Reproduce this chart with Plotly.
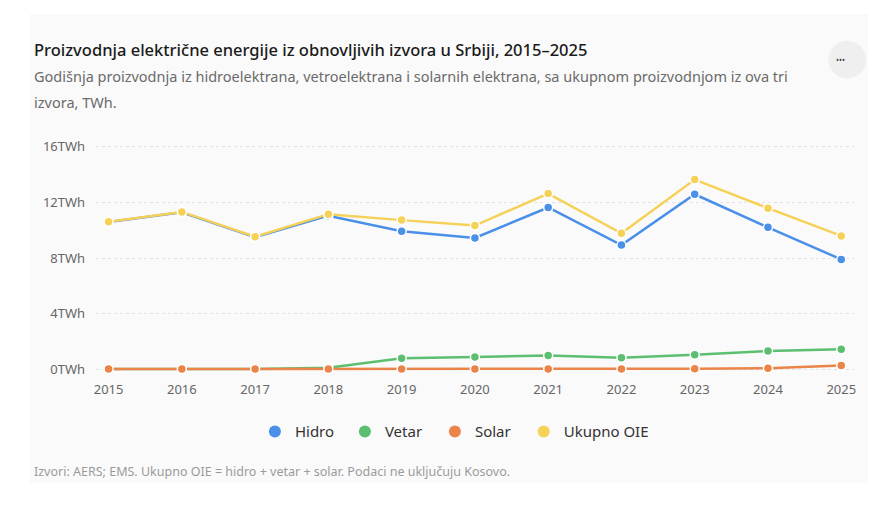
import plotly.graph_objects as go

# Podaci (TWh), procenjeno sa grafika
godine = [2015, 2016, 2017, 2018, 2019, 2020, 2021, 2022, 2023, 2024, 2025]
hidro = [10.6, 11.3, 9.5, 11.05, 9.93, 9.45, 11.64, 8.93, 12.59, 10.21, 7.9]
vetar = [0.01, 0.01, 0.02, 0.1, 0.79, 0.88, 0.98, 0.83, 1.03, 1.31, 1.43]
solar = [0.01, 0.01, 0.01, 0.01, 0.01, 0.01, 0.02, 0.02, 0.03, 0.07, 0.26]
ukupno = [10.62, 11.32, 9.53, 11.16, 10.73, 10.34, 12.64, 9.78, 13.65, 11.59, 9.59]

y_tikovi = [0, 4, 8, 12, 16]
y_oznake = ["0TWh", "4TWh", "8TWh", "12TWh", "16TWh"]

serije = [
    ("Hidro", hidro, "#4a8fe8", "legend"),
    ("Vetar", vetar, "#5cbf70", "legend"),
    ("Solar", solar, "#ea8448", "legend"),
    ("Ukupno OIE", ukupno, "#f5d157", "legend2"),
]

FONT = "Noto Sans"
W, H = 894, 510
OFF = 8  # margina body elementa na stranici


def px_x(x):
    return (x - OFF) / W


def px_y(y):
    return (H - (y - OFF)) / H


fig = go.Figure()

for name, vals, color, leg in serije:
    fig.add_trace(go.Scatter(
        x=godine, y=vals,
        mode='lines+markers',
        name=name,
        line=dict(color=color, width=2.5),
        marker=dict(color=color, size=9, line=dict(width=1.5, color='white')),
        cliponaxis=False,
        showlegend=False
    ))

# legenda samo sa kruzicima
for name, vals, color, leg in serije:
    fig.add_trace(go.Scatter(
        x=[None], y=[None],
        mode='markers',
        name=name,
        marker=dict(color=color, size=12),
        showlegend=True,
        legend=leg
    ))

# kartica u pozadini
fig.add_shape(type='rect', xref='paper', yref='paper',
              x0=px_x(28), x1=px_x(870), y0=px_y(485), y1=px_y(12),
              fillcolor='#fafafa', line=dict(width=0), layer='below')
fig.add_shape(type='circle', xref='paper', yref='paper',
              x0=px_x(830), x1=px_x(868), y0=px_y(77), y1=px_y(39),
              fillcolor='#efefef', line=dict(width=0), layer='below')

fig.add_annotation(x=px_x(849), y=px_y(58), xref='paper', yref='paper',
                   text="•••", showarrow=False, yanchor='middle',
                   font=dict(family=FONT, size=8, color='#444'))

fig.add_annotation(x=px_x(30), y=px_y(48), xref='paper', yref='paper',
                   xanchor='left', yanchor='middle', showarrow=False,
                   text="Proizvodnja električne energije iz obnovljivih izvora u Srbiji, 2015–2025",
                   font=dict(family=FONT, size=16.5, color='#1a1a1a', weight=500))
fig.add_annotation(x=px_x(30), y=px_y(75), xref='paper', yref='paper',
                   xanchor='left', yanchor='middle', showarrow=False,
                   text="Godišnja proizvodnja iz hidroelektrana, vetroelektrana i solarnih elektrana, sa ukupnom proizvodnjom iz ova tri",
                   font=dict(family=FONT, size=14.5, color='#6b6b6b'))
fig.add_annotation(x=px_x(30), y=px_y(101), xref='paper', yref='paper',
                   xanchor='left', yanchor='middle', showarrow=False,
                   text="izvora, TWh.",
                   font=dict(family=FONT, size=14.5, color='#6b6b6b'))
fig.add_annotation(x=px_x(30), y=px_y(473), xref='paper', yref='paper',
                   xanchor='left', yanchor='middle', showarrow=False,
                   text="Izvori: AERS; EMS. Ukupno OIE = hidro + vetar + solar. Podaci ne uključuju Kosovo.",
                   font=dict(family=FONT, size=12.5, color='#9a9a9a'))

legenda_stil = dict(
    orientation='h',
    y=px_y(433), yanchor='middle',
    font=dict(size=15, color='#333'),
    bgcolor='rgba(0,0,0,0)',
    itemwidth=30, tracegroupgap=0,
)

fig.update_layout(
    width=W, height=H,
    margin=dict(t=0, b=0, l=0, r=0),
    paper_bgcolor='white',
    plot_bgcolor='rgba(0,0,0,0)',
    font=dict(family=FONT, color='#666'),
    xaxis=dict(
        domain=[px_x(94.5), px_x(855.5)],
        range=[2014.83, 2025.17],
        tickvals=godine,
        showgrid=False, zeroline=False, showline=False,
        ticks='', tickfont=dict(size=13, color='#666'),
        ticklabelstandoff=4
    ),
    yaxis=dict(
        domain=[px_y(377), px_y(139)],
        range=[-0.5, 16.5],
        tickvals=y_tikovi,
        ticktext=y_oznake,
        showgrid=True, gridcolor='#e2e2e2', griddash='3px,3px', gridwidth=1,
        zeroline=False, showline=False,
        ticks='', tickfont=dict(size=13, color='#666'),
        ticklabelstandoff=10
    ),
    legend=dict(legenda_stil, x=px_x(254), xanchor='left',
                entrywidth=45, entrywidthmode='pixels'),
    legend2=dict(legenda_stil, x=px_x(524), xanchor='left'),
    hovermode='x unified'
)

fig.write_html("out.html")
